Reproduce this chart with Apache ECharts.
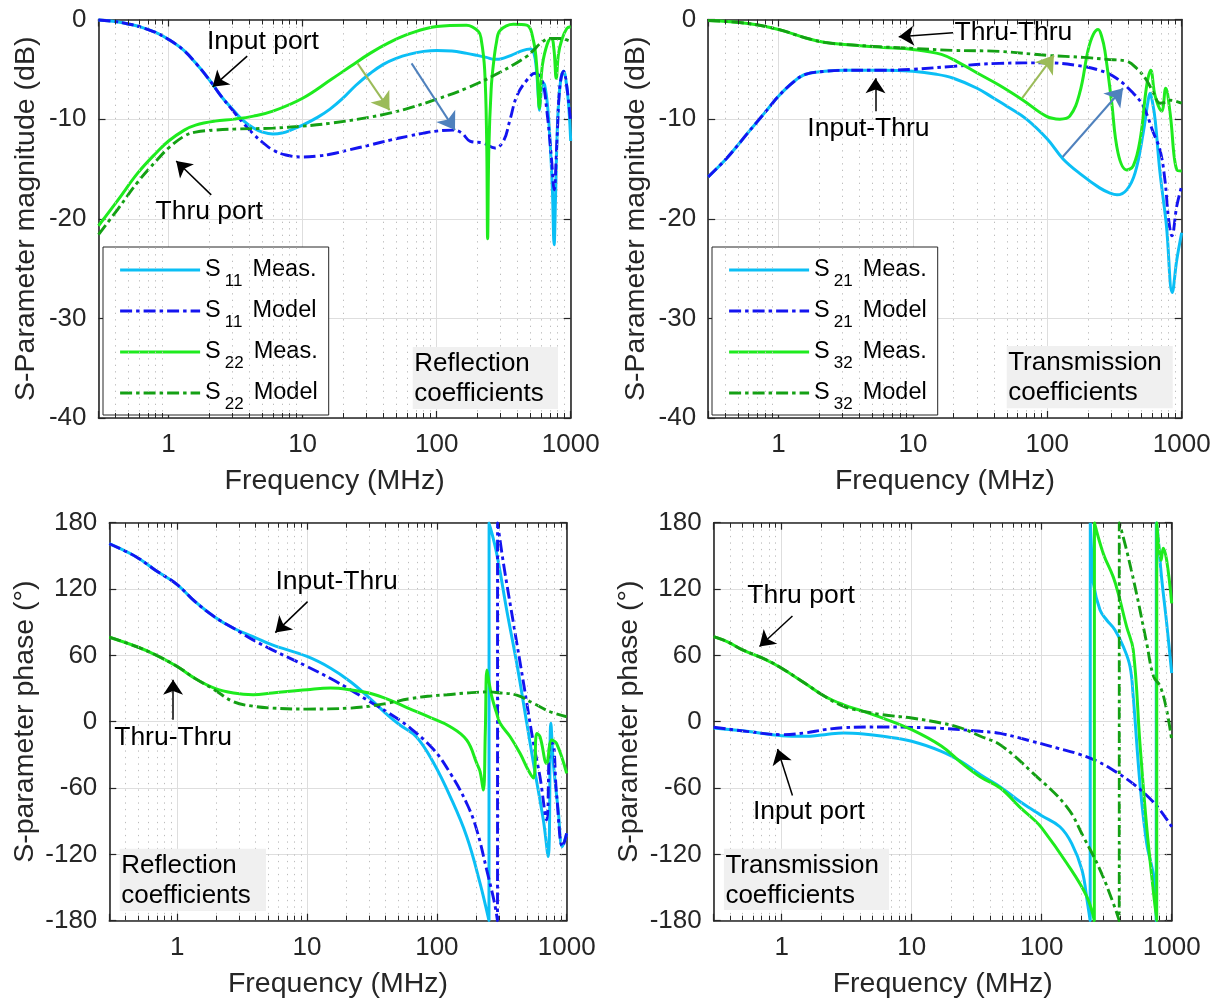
<!DOCTYPE html>
<html>
<head>
<meta charset="utf-8">
<script src="https://cdn.jsdelivr.net/npm/echarts@6/dist/echarts.min.js"></script>
<style>
  html, body { margin: 0; padding: 0; background: #ffffff; }
  #chart { width: 1222px; height: 1003px; }
</style>
</head>
<body>
<div id="chart"></div>
<script>
const FONT = "'Liberation Sans', Arial, Helvetica, sans-serif";
const INK = '#262626';
const C_MEAS_A = '#0BBFF5';   // S11 / S21 measured
const C_MODEL_A = '#1414F0';  // S11 / S21 model
const C_MEAS_B = '#1EEB1E';   // S22 / S32 measured
const C_MODEL_B = '#14A014';  // S22 / S32 model
const DASHDOT = [12, 4, 3.5, 4];

// ---- axes ----
const freqMin = 0.3, freqMax = 1000;
const xTickLabels = { 1: '1', 10: '10', 100: '100', 1000: '1000' };
const minorFreqs = [0.4, 0.5, 0.6, 0.7, 0.8, 0.9, 2, 3, 4, 5, 6, 7, 8, 9,
  20, 30, 40, 50, 60, 70, 80, 90, 200, 300, 400, 500, 600, 700, 800, 900];
const magRange = [-40, 0], magStep = 10;
const phaseRange = [-180, 180], phaseStep = 60;

// ---- magnitude, reflection (MHz, dB) ----
const s11MeasMag = [[0.3,-0.05],[0.4,-0.2],[0.5,-0.45],[0.6,-0.7],[0.8,-1.3],[1,-2.0],[1.3,-3.1],[1.6,-4.4],[2,-6.0],[2.5,-7.8],[3,-9.0],[3.5,-10.0],[4.3,-10.9],[5,-11.3],[6,-11.5],[7,-11.4],[8.5,-11.0],[10,-10.6],[13,-9.8],[16,-9.0],[20,-7.9],[25,-6.6],[32,-5.4],[40,-4.5],[50,-3.9],[62,-3.5],[80,-3.2],[100,-3.1],[130,-3.15],[168,-3.4],[200,-3.6],[235,-3.8],[270,-4.0],[290,-4.0],[320,-3.85],[360,-3.6],[420,-3.2],[470,-3.0],[500,-2.95],[530,-3.3],[555,-5.0],[575,-8.0],[584,-9.1],[595,-8.0],[620,-6.3],[640,-6.6],[670,-8.5],[700,-12],[730,-17],[752,-22.6],[770,-18],[800,-10],[840,-6.2],[885,-5.2],[930,-6.5],[970,-9],[1000,-12.2]];
const s11ModelMag = [[0.3,-0.05],[0.4,-0.2],[0.5,-0.45],[0.6,-0.7],[0.8,-1.3],[1,-2.0],[1.3,-3.1],[1.6,-4.4],[2,-6.0],[2.5,-7.8],[3,-9.1],[3.5,-10.2],[4.3,-11.5],[5,-12.3],[6,-13.1],[7.5,-13.6],[10,-13.8],[13,-13.7],[16.4,-13.5],[22,-13.1],[31.8,-12.6],[45,-12.1],[62,-11.7],[80,-11.4],[100,-11.2],[133,-11.1],[154,-11.4],[177,-12.2],[223,-12.4],[272,-12.9],[315,-12.2],[352,-10.1],[396,-7.7],[470,-6.1],[542,-5.4],[610,-6.1],[663,-9.1],[720,-14.1],[752,-17.1],[790,-12.1],[830,-6.7],[885,-5.2],[935,-6.7],[1000,-10.4]];
const s22MeasMag = [[0.3,-20.7],[0.42,-18.1],[0.59,-15.4],[0.82,-13.3],[1,-12.2],[1.31,-11.1],[1.59,-10.6],[2.22,-10.2],[3.1,-10.0],[4.3,-9.7],[6,-9.2],[10,-7.9],[16.4,-6.0],[22.8,-4.7],[31.8,-3.4],[44.5,-2.3],[62,-1.45],[100,-0.7],[167,-0.57],[205,-1.2],[215,-2.0],[228,-5],[236,-12],[240,-22],[245,-13],[255,-7],[265,-4.5],[280,-2.2],[297,-1.1],[373,-0.47],[470,-0.57],[527,-2.1],[560,-5],[584,-8.9],[605,-5.5],[625,-4.0],[680,-2.2],[720,-1.9],[750,-3.0],[780,-5.9],[810,-3.5],[855,-2.1],[935,-0.9],[1000,-0.73]];
const s22ModelMag = [[0.3,-21.6],[0.42,-19.0],[0.59,-16.3],[0.82,-14.1],[1,-12.9],[1.31,-11.7],[1.59,-11.3],[2.22,-11.1],[3.1,-11.0],[6,-10.9],[10,-10.7],[16.4,-10.4],[31.8,-9.8],[44.5,-9.4],[62,-8.9],[100,-8.0],[167,-6.9],[297,-5.3],[470,-3.7],[527,-3.1],[594,-2.4],[700,-1.9],[830,-1.9],[1000,-2.2]];

// ---- magnitude, transmission (MHz, dB) ----
const s21MeasMag = [[0.3,-15.8],[0.42,-13.8],[0.59,-11.4],[0.82,-9.1],[1,-7.7],[1.31,-6.2],[1.59,-5.5],[2.22,-5.2],[3.1,-5.1],[6,-5.1],[10,-5.2],[15,-5.5],[20,-5.9],[30,-6.9],[40,-7.9],[50,-8.7],[70,-10.0],[100,-12.0],[131,-14.0],[180,-15.6],[245,-16.9],[290,-17.4],[330,-17.6],[390,-17.1],[450,-15.4],[517,-11.4],[560,-8.3],[581,-7.4],[610,-8.5],[635,-10.1],[690,-15.4],[770,-20.7],[850,-27.4],[920,-24.1],[1000,-21.4]];
const s21ModelMag = [[0.3,-15.8],[0.42,-13.8],[0.59,-11.4],[0.82,-9.1],[1,-7.7],[1.31,-6.2],[1.59,-5.5],[2.22,-5.2],[3.1,-5.1],[6,-5.1],[10,-5.0],[20,-4.7],[44,-4.4],[100,-4.35],[165,-4.6],[245,-5.1],[327,-5.9],[436,-7.4],[517,-8.7],[617,-11.4],[690,-13.1],[750,-16.1],[800,-20.1],[845,-21.7],[920,-18.7],[1000,-16.7]];
const s32MeasMag = [[0.3,-0.1],[0.59,-0.4],[1,-1.0],[1.59,-1.85],[2.22,-2.3],[3.1,-2.5],[6,-2.8],[10,-3.0],[16.3,-3.5],[22.5,-4.4],[31.3,-5.5],[44,-6.6],[66,-8.1],[98,-9.7],[124,-10.0],[147,-9.7],[174,-7.4],[201,-3.1],[220,-1.5],[239,-1.0],[255,-1.8],[268,-3.1],[300,-8.1],[336,-13.4],[390,-15.1],[436,-14.7],[490,-12.1],[548,-6.7],[588,-5.1],[635,-7.7],[710,-9.2],[760,-6.9],[820,-9.4],[920,-15.1],[1000,-15.2]];
const s32ModelMag = [[0.3,-0.1],[0.59,-0.4],[1,-1.0],[1.59,-1.85],[2.22,-2.3],[3.1,-2.5],[6,-2.75],[10,-2.9],[20,-3.1],[44,-3.2],[100,-3.6],[185,-3.8],[276,-4.0],[390,-4.2],[462,-4.9],[548,-6.1],[617,-7.4],[690,-8.4],[760,-8.3],[820,-8.1],[1000,-8.4]];

// ---- phase, reflection (MHz, degrees) ----
const s11MeasPh = [[0.3,161],[0.485,149],[0.68,137],[1,124],[1.36,109],[1.93,95],[2.72,84.5],[3.84,77],[5.4,69.5],[10,59],[15.2,48.4],[21.5,36.4],[30.3,21.4],[42.7,5],[52,-3],[70,-14],[94,-37],[127,-68],[170,-104],[215,-146],[252,-180],[252.5,180],[289,152],[345,101],[412,53],[493,-1.5],[555,-37.7],[661,-89],[720,-122],[755,-1.5],[790,-38],[860,-80],[925,-113],[1000,-101]];
const s11ModelPh = [[0.3,161],[0.485,149],[0.68,137],[1,124],[1.36,109],[1.93,95],[2.72,84.5],[3.84,74],[5.4,65],[10,50],[15.2,39],[21.5,29],[30.3,18.3],[42.7,7.8],[60,-4.2],[94,-25],[127,-46.7],[170,-74],[203,-98],[242,-134],[278,-164],[293,-180],[293.5,180],[326,143],[389,89],[465,35],[555,-19.6],[623,-50],[700,-89],[745,-19.6],[780,-19.6],[835,-65],[930,-113],[1000,-101]];
const s22MeasPh = [[0.3,76.4],[0.485,68],[0.68,60.5],[1,50],[1.36,39.4],[1.93,30.4],[2.72,25.9],[3.84,24.4],[5.4,25.9],[10,28.9],[15.2,30.4],[21.5,28.9],[30,25.9],[43,19.8],[60,12.3],[85,4.8],[127,-4.5],[170,-16.6],[203,-37.7],[215,-45],[228,-61.8],[236,-10],[243,46.7],[252,36],[265,22.6],[289,7.5],[307,-1.5],[367,-13.6],[437,-28.6],[505,-43.7],[555,-51],[588,-10.6],[623,-13.6],[700,-37.7],[767,-16.6],[835,-19.6],[1000,-46.7]];
const s22ModelPh = [[0.3,76.4],[0.485,68],[0.68,60.5],[1,50],[1.36,39.4],[1.93,29],[2.72,18],[3.84,14],[5.4,12.3],[10,11.4],[21.5,12.3],[30,14],[43,17],[60,20.5],[85,23],[120,24.4],[170,26],[250,27],[300,26.2],[412,24],[555,16.6],[745,9],[1000,4.5]];

// ---- phase, transmission (MHz, degrees) ----
const s21MeasPh = [[0.3,-5.7],[0.537,-8.7],[1,-12.6],[1.5,-13.2],[2.14,-11.7],[3,-10.2],[4.26,-11.1],[6,-13.2],[10,-17.7],[16.9,-26.8],[24,-36],[33.8,-48],[48,-59],[67.5,-72],[86,-80],[100,-85],[138,-95],[170,-110],[204,-134],[225,-164],[236,-180],[236.5,180],[243,150],[250,125],[281,101],[316,92],[366,83],[424,68],[478,50],[506,22.6],[570,-56],[642,-110],[725,-140],[760,-180],[761,180],[777,173],[835,131],[915,89],[1000,44]];
const s21ModelPh = [[0.3,-5],[0.537,-8.7],[1,-11.7],[1.5,-10.2],[2.14,-7.2],[3,-5.4],[6,-4.8],[10,-5.1],[16.9,-6],[33.8,-8.7],[48,-10.6],[86,-18],[133,-24],[190,-29],[270,-36],[380,-46],[530,-58],[700,-71],[815,-80],[1000,-95]];
const s32MeasPh = [[0.3,77],[0.38,72.5],[0.5,65],[0.76,56],[1,48.4],[1.5,35],[2.14,23],[3,15.3],[4.26,9.3],[6,3.3],[10,-7.2],[16.9,-22],[24,-37],[33.8,-50],[48,-60],[67.5,-77],[86,-88],[100,-96],[156,-128],[222,-158],[254,-180],[254.5,180],[298,152],[355,131],[388,116],[450,86],[506,65],[570,-20],[642,-95],[725,-155],[767,-180],[768,180],[830,146],[860,157],[915,146],[1000,107]];
const s32ModelPh = [[0.3,77],[0.38,72.5],[0.5,65],[0.76,56],[1,48.4],[1.5,35],[2.14,23],[3,13.8],[4.26,9.3],[6,6.3],[10,3.3],[16.9,-1.2],[24,-5.7],[33.8,-13.2],[48,-21],[86,-46.7],[156,-77],[209,-104],[281,-134],[355,-164],[395,-180],[395.5,180],[450,155],[536,116],[642,71],[725,41],[815,32],[915,10.5],[1000,-16.6]];

// ---- annotations (data coordinates) ----
const notesTL = { texts: [{ at: [5.06, -2.18], text: 'Input port' }, { at: [2.01, -19.3], text: 'Thru port' }],
  arrows: [{ from: [3.86, -3.68], to: [2.13, -6.76], color: '#000000' }, { from: [2.08, -17.6], to: [1.14, -14.2], color: '#000000' },
           { from: [25.7, -4.4], to: [44.5, -9.1], color: '#9BBB59' }, { from: [65, -4.4], to: [137, -11.1], color: '#4F81BD' }] };
const notesTR = { texts: [{ at: [55.9, -1.34], text: 'Thru-Thru' }, { at: [4.67, -11.0], text: 'Input-Thru' }],
  arrows: [{ from: [19.9, -1.34], to: [7.85, -1.74], color: '#000000' }, { from: [5.27, -9.2], to: [5.27, -5.9], color: '#000000' },
           { from: [65, -7.9], to: [112, -3.6], color: '#9BBB59' }, { from: [130, -13.8], to: [366, -6.9], color: '#4F81BD' }] };
const notesBL = { texts: [{ at: [16.9, 126.6], text: 'Input-Thru' }, { at: [0.93, -14.7], text: 'Thru-Thru' }],
  arrows: [{ from: [10.1, 108.6], to: [5.7, 80.6], color: '#000000' }, { from: [0.93, 1.8], to: [0.93, 37.9], color: '#000000' }] };
const notesBR = { texts: [{ at: [1.41, 114], text: 'Thru port' }, { at: [1.62, -81], text: 'Input port' }],
  arrows: [{ from: [1.21, 95.6], to: [0.675, 68], color: '#000000' }, { from: [1.21, -66.8], to: [0.93, -24.7], color: '#000000' }] };

// ---- layout ----
const grids = [
  { left: 98.5, top: 19.5, width: 472.2, height: 398.5 },
  { left: 708.2, top: 19.5, width: 473.5, height: 398.5 },
  { left: 109.3, top: 522.7, width: 457.4, height: 398 },
  { left: 713.7, top: 522.7, width: 458, height: 398 }
];

function freqLabel(v) {
  for (const k in xTickLabels) {
    if (Math.abs(Math.log10(v) - Math.log10(+k)) < 1e-6) return xTickLabels[k];
  }
  return '';
}

const axisLineStyle = { show: true, onZero: false, lineStyle: { color: INK, width: 1.6 } };
const tickStyle = { show: true, inside: true, length: 7, lineStyle: { color: INK, width: 1.2 } };

const xAxes = [], yAxes = [];
function addAxes(g, yr, ystep, yname, ynameGap) {
  xAxes.push({
    gridIndex: g, type: 'log', logBase: 10, min: freqMin, max: freqMax, position: 'bottom',
    name: 'Frequency (MHz)', nameLocation: 'middle', nameGap: 49,
    nameTextStyle: { fontSize: 28.5, color: INK, fontFamily: FONT },
    axisLine: axisLineStyle, axisTick: tickStyle,
    axisLabel: { margin: 14, fontSize: 26, color: INK, fontFamily: FONT, formatter: freqLabel },
    splitLine: { show: true, lineStyle: { color: '#DEDEDE', width: 1 } }
  });
  xAxes.push({
    gridIndex: g, type: 'log', logBase: 10, min: freqMin, max: freqMax, position: 'top',
    axisLine: axisLineStyle, axisTick: tickStyle, axisLabel: { show: false }, splitLine: { show: false }
  });
  yAxes.push({
    gridIndex: g, type: 'value', min: yr[0], max: yr[1], interval: ystep, position: 'left',
    name: yname, nameLocation: 'middle', nameGap: ynameGap,
    nameTextStyle: { fontSize: 28.5, color: INK, fontFamily: FONT },
    axisLine: axisLineStyle, axisTick: tickStyle,
    axisLabel: { margin: 12, fontSize: 26, color: INK, fontFamily: FONT },
    splitLine: { show: true, lineStyle: { color: '#DEDEDE', width: 1 } }
  });
  yAxes.push({
    gridIndex: g, type: 'value', min: yr[0], max: yr[1], interval: ystep, position: 'right',
    axisLine: axisLineStyle, axisTick: tickStyle, axisLabel: { show: false }, splitLine: { show: false }
  });
}
addAxes(0, magRange, magStep, 'S-Parameter magnitude (dB)', 58);
addAxes(1, magRange, magStep, 'S-Parameter magnitude (dB)', 58);
addAxes(2, phaseRange, phaseStep, 'S-parameter phase (°)', 70);
addAxes(3, phaseRange, phaseStep, 'S-parameter phase (°)', 70);

function curve(name, data, g, color, model) {
  return {
    type: 'line', name, data, xAxisIndex: 2 * g, yAxisIndex: 2 * g,
    symbol: 'none', showSymbol: false, smooth: 0.4,
    lineStyle: { color, width: model ? 2.9 : 3, type: model ? DASHDOT : 'solid', cap: 'butt' },
    itemStyle: { color }, z: 3, silent: true
  };
}

// dotted minor grid plus short minor tick marks along top and bottom edges
function minorDecor(g, yr) {
  const len = (yr[1] - yr[0]) * 5 / 398;
  const ticks = [];
  minorFreqs.forEach(f => {
    ticks.push([{ coord: [f, yr[0]] }, { coord: [f, yr[0] + len] }]);
    ticks.push([{ coord: [f, yr[1]] }, { coord: [f, yr[1] - len] }]);
  });
  return [{
    type: 'line', name: 'minor-grid-' + g, data: [], xAxisIndex: 2 * g, yAxisIndex: 2 * g, z: 1, silent: true,
    markLine: { silent: true, symbol: ['none', 'none'], label: { show: false },
      lineStyle: { color: '#BDBDBD', width: 1, type: [1.3, 5.2] },
      data: minorFreqs.map(f => ({ xAxis: f })) }
  }, {
    type: 'line', name: 'minor-tick-' + g, data: [], xAxisIndex: 2 * g, yAxisIndex: 2 * g, z: 4, silent: true,
    markLine: { silent: true, symbol: ['none', 'none'], label: { show: false },
      lineStyle: { color: INK, width: 1, type: 'solid' }, data: ticks }
  }];
}

function notes(g, n) {
  return {
    type: 'line', name: 'notes-' + g, data: [], xAxisIndex: 2 * g, yAxisIndex: 2 * g, z: 6, silent: true,
    markLine: {
      silent: true, symbol: ['none', 'arrow'], symbolSize: 15, label: { show: false },
      data: n.arrows.map(a => {
        const ls = { color: a.color, width: a.color === '#000000' ? 1.5 : 2, type: 'solid' };
        const head = a.color === '#000000' ? 15 : 17;
        return [
          { coord: a.from, symbol: 'none', lineStyle: ls, itemStyle: { color: a.color } },
          { coord: a.to, symbol: 'arrow', symbolSize: head, lineStyle: ls, itemStyle: { color: a.color } }
        ];
      })
    },
    markPoint: {
      silent: true, symbol: 'circle', symbolSize: 1, itemStyle: { color: 'rgba(0,0,0,0)' },
      label: { show: true, position: 'inside', color: '#000', fontSize: 26.5, fontFamily: FONT },
      data: n.texts.map(t => ({ coord: t.at, label: { formatter: t.text } }))
    }
  };
}

const series = [].concat(
  minorDecor(0, magRange), minorDecor(1, magRange), minorDecor(2, phaseRange), minorDecor(3, phaseRange),
  [
    curve('S11 Meas.', s11MeasMag, 0, C_MEAS_A, false),
    curve('S11 Model', s11ModelMag, 0, C_MODEL_A, true),
    curve('S22 Meas.', s22MeasMag, 0, C_MEAS_B, false),
    curve('S22 Model', s22ModelMag, 0, C_MODEL_B, true),
    curve('S21 Meas.', s21MeasMag, 1, C_MEAS_A, false),
    curve('S21 Model', s21ModelMag, 1, C_MODEL_A, true),
    curve('S32 Meas.', s32MeasMag, 1, C_MEAS_B, false),
    curve('S32 Model', s32ModelMag, 1, C_MODEL_B, true),
    curve('S11 Meas.', s11MeasPh, 2, C_MEAS_A, false),
    curve('S11 Model', s11ModelPh, 2, C_MODEL_A, true),
    curve('S22 Meas.', s22MeasPh, 2, C_MEAS_B, false),
    curve('S22 Model', s22ModelPh, 2, C_MODEL_B, true),
    curve('S21 Meas.', s21MeasPh, 3, C_MEAS_A, false),
    curve('S21 Model', s21ModelPh, 3, C_MODEL_A, true),
    curve('S32 Meas.', s32MeasPh, 3, C_MEAS_B, false),
    curve('S32 Model', s32ModelPh, 3, C_MODEL_B, true),
    notes(0, notesTL), notes(1, notesTR), notes(2, notesBL), notes(3, notesBR)
  ]
);

function legendBox(left, names) {
  return {
    data: names, orient: 'vertical', left, top: 247,
    padding: [3, 11, 2, 15.5], itemGap: 1, itemWidth: 80, itemHeight: 14,
    backgroundColor: '#ffffff', borderColor: INK, borderWidth: 1, borderRadius: 0,
    selectedMode: false,
    itemStyle: { opacity: 0, borderWidth: 0 },
    lineStyle: { width: 3.2 },
    textStyle: {
      color: '#000', fontFamily: FONT,
      rich: {
        m: { fontSize: 23.5, lineHeight: 26, color: '#000', fontFamily: FONT },
        sub: { fontSize: 17, lineHeight: 16, color: '#000', fontFamily: FONT, padding: [23, 10, 0, 4] }
      }
    },
    formatter: name => {
      const parts = name.match(/^S(\d+) (.*)$/);
      return '{m|S}{sub|' + parts[1] + '}{m|' + parts[2] + '}';
    }
  };
}

function noteBox(x, y, w, h, text) {
  return [
    { type: 'rect', shape: { x, y, width: w, height: h }, style: { fill: '#F0F0F0' }, z: 20, silent: true },
    { type: 'text', x: x + 1.5, y: y + 2, style: { text, fill: '#000', font: '26px ' + FONT, lineHeight: 30 }, z: 21, silent: true }
  ];
}

const option = {
  animation: false,
  backgroundColor: '#ffffff',
  grid: grids,
  xAxis: xAxes,
  yAxis: yAxes,
  legend: [
    legendBox(103, ['S11 Meas.', 'S11 Model', 'S22 Meas.', 'S22 Model']),
    legendBox(712, ['S21 Meas.', 'S21 Model', 'S32 Meas.', 'S32 Model'])
  ],
  series,
  graphic: [].concat(
    noteBox(412.7, 347, 145.3, 62, 'Reflection\ncoefficients'),
    noteBox(1006.7, 346, 166, 62.3, 'Transmission\ncoefficients'),
    noteBox(119.7, 848.8, 146.3, 62.2, 'Reflection\ncoefficients'),
    noteBox(723.9, 848.8, 165.1, 61.2, 'Transmission\ncoefficients')
  )
};

const chart = echarts.init(document.getElementById('chart'), null, { renderer: 'canvas' });
chart.setOption(option);
</script>
</body>
</html>
